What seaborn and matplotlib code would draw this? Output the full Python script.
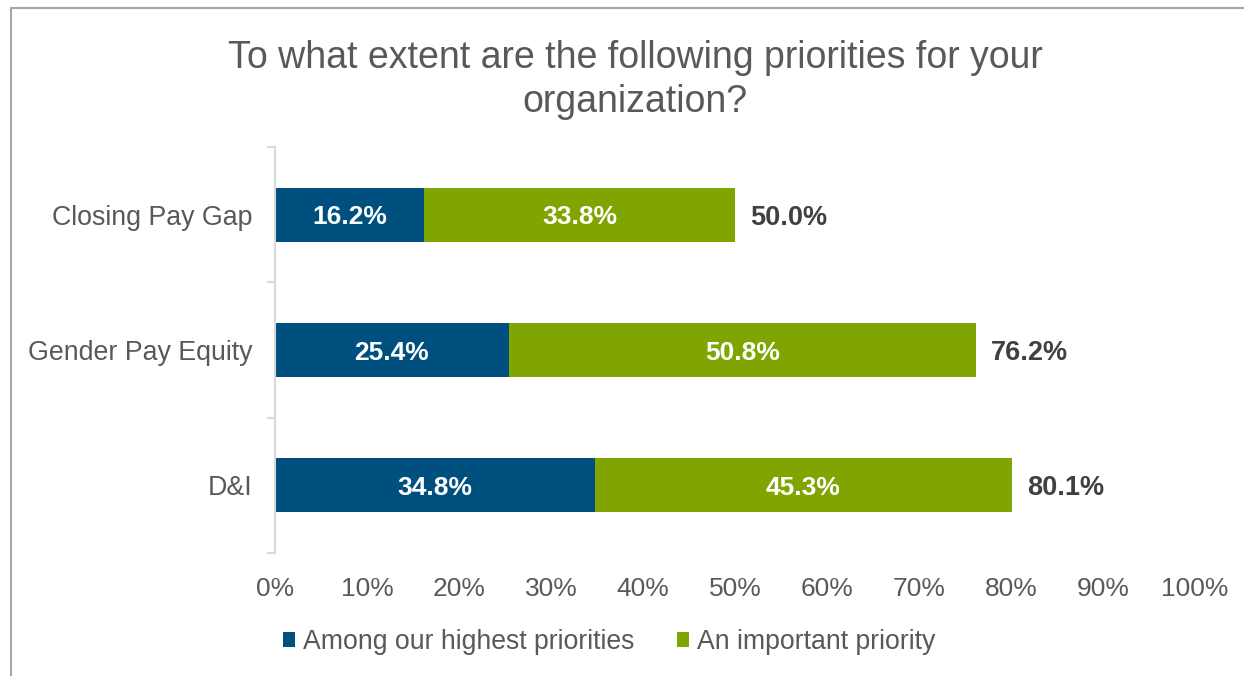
import matplotlib
matplotlib.use("Agg")
import matplotlib.pyplot as plt
import seaborn as sns
import pandas as pd
from matplotlib.lines import Line2D
from matplotlib.patches import Patch
from matplotlib.ticker import FixedLocator

categories = ["Closing Pay Gap", "Gender Pay Equity", "D&I"]
highest = [16.2, 25.4, 34.8]
important = [33.8, 50.8, 45.3]
series_names = ["Among our highest priorities", "An important priority"]
xticks = [0, 10, 20, 30, 40, 50, 60, 70, 80, 90, 100]
title = "To what extent are the following priorities for your\norganization?"

BLUE = "#00507F"
GREEN = "#80A500"
GREY_TXT = "#595959"
DARK_TXT = "#404040"

totals = [h + i for h, i in zip(highest, important)]
df = pd.DataFrame({"category": categories, "highest": highest,
                   "important": important, "total": totals})

sns.set_theme(style="white")
plt.rcParams["font.family"] = ["Liberation Sans", "DejaVu Sans"]

fig = plt.figure(figsize=(12.44, 6.76), dpi=100)
ax = fig.add_axes([275/1244, 1-553/676, 920/1244, (553-147)/676])

sns.barplot(data=df, x="total", y="category", order=categories, color=GREEN,
            width=0.4, saturation=1, orient="h", ax=ax, linewidth=0)
sns.barplot(data=df, x="highest", y="category", order=categories, color=BLUE,
            width=0.4, saturation=1, orient="h", ax=ax, linewidth=0)

for i, (h, im, t) in enumerate(zip(highest, important, totals)):
    ax.text(h/2, i, f"{h:.1f}%", ha="center", va="center_baseline", color="white",
            fontsize=19, fontweight="bold")
    ax.text(h + im/2, i, f"{im:.1f}%", ha="center", va="center_baseline", color="white",
            fontsize=19, fontweight="bold")
    ax.annotate(f"{t:.1f}%", (t, i), xytext=(11, 0), textcoords="offset points",
                ha="left", va="center_baseline", color=DARK_TXT, fontsize=19.5,
                fontweight="bold")

ax.set_xlim(0, 100)
ax.set_ylim(2.5, -0.5)
ax.set_xticks(xticks)
ax.set_xticklabels([f"{v}%" for v in xticks])
ax.set_xlabel("")
ax.set_ylabel("")
for s in ["top", "right", "bottom"]:
    ax.spines[s].set_visible(False)
ax.spines["left"].set_color("#D9D9D9")
ax.spines["left"].set_linewidth(1.5)
ax.tick_params(axis="x", length=0, pad=17.5, labelsize=19, labelcolor=GREY_TXT)
ax.tick_params(axis="y", which="major", length=0, pad=16.5, labelsize=19.3, labelcolor=GREY_TXT)
ax.yaxis.set_minor_locator(FixedLocator([-0.5, 0.5, 1.5, 2.5]))
ax.tick_params(axis="y", which="minor", length=6, width=1.5, color="#D9D9D9", left=True)
ax.grid(False)

fig.text(635/1244, 1-80/676, title, ha="center", va="center", fontsize=27,
         color=GREY_TXT, linespacing=1.3)

handles = [Patch(facecolor=BLUE, edgecolor="none"), Patch(facecolor=GREEN, edgecolor="none")]
fig.legend(handles, series_names, loc="center", bbox_to_anchor=(609/1244, 1-642/676),
           ncol=2, frameon=False, fontsize=19.2, labelcolor=GREY_TXT,
           handlelength=0.45, handleheight=0.45, handletextpad=0.3, columnspacing=1.6)

# outer frame (left and top edges visible)
fig.add_artist(Line2D([11/1244, 11/1244], [0, 1-8/676], color="#A6A6A6", lw=1.5))
fig.add_artist(Line2D([11/1244, 1], [1-8/676, 1-8/676], color="#A6A6A6", lw=1.5))

fig.savefig("out.png", dpi=100)
